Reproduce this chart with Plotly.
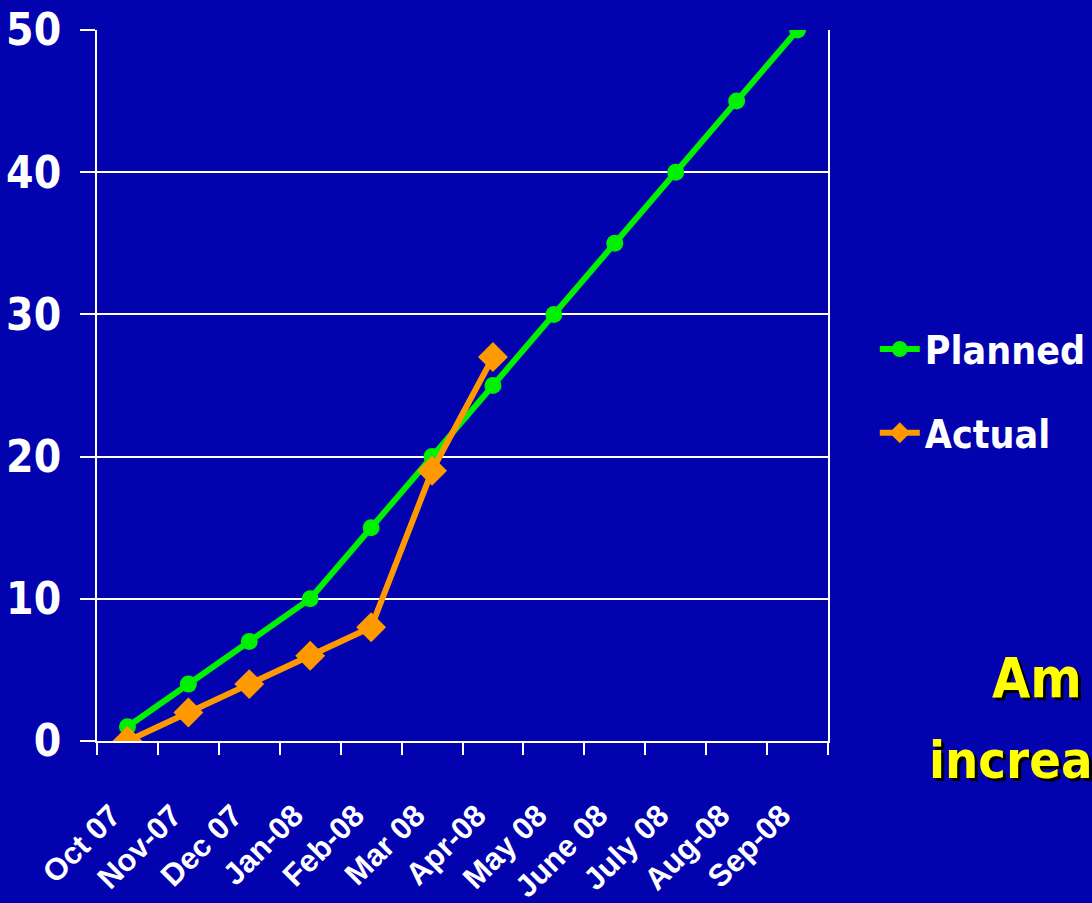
import plotly.graph_objects as go

months = ["Oct 07", "Nov-07", "Dec 07", "Jan-08", "Feb-08", "Mar 08", "Apr-08",
          "May 08", "June 08", "July 08", "Aug-08", "Sep-08"]
planned = [1, 4, 7, 10, 15, 20, 25, 30, 35, 40, 45, 50]
actual_months = months[:7]
actual = [0, 2, 4, 6, 8, 19, 27]

BG = "#0202AE"
NARROW = "Liberation Sans Narrow, Arial Narrow, DejaVu Sans Condensed, Liberation Sans, Arial, sans-serif"
REG = "Liberation Sans, Arial, sans-serif"

fig = go.Figure()
fig.add_trace(go.Scatter(
    x=months, y=planned, name="Planned", mode="lines+markers",
    line=dict(color="#00F000", width=6),
    marker=dict(symbol="circle", size=17, color="#00F000"),
    legendgroup="p",
))
fig.add_trace(go.Scatter(
    x=actual_months, y=actual, name="Actual", mode="lines+markers",
    line=dict(color="#FF9900", width=6),
    marker=dict(symbol="diamond", size=23, color="#FF9900"),
    legendgroup="a",
))

fig.update_layout(
    width=1092, height=903,
    margin=dict(l=97, r=264, t=30, b=162, autoexpand=False),
    paper_bgcolor=BG, plot_bgcolor=BG,
    font=dict(family=REG, color="white"),
    showlegend=True,
    legend=dict(
        x=1.064, y=0.492, xanchor="left", yanchor="middle",
        font=dict(family=NARROW, size=39, color="white", weight="bold"),
        bgcolor="rgba(0,0,0,0)", tracegroupgap=30,
        itemwidth=40,
    ),
    xaxis=dict(
        type="category", range=[-0.5, 11.5], automargin=False,
        showgrid=False, zeroline=False,
        showline=True, linecolor="white", linewidth=2,
        ticks="outside", tickson="boundaries", ticklen=12, tickwidth=2, tickcolor="white",
        tickangle=-45, ticklabelstandoff=42, ticklabelshift=-16,
        tickfont=dict(family=REG, size=31, color="white", weight="bold"),
    ),
    yaxis=dict(
        range=[0, 50], dtick=10, tick0=0, automargin=False,
        showgrid=True, gridcolor="white", gridwidth=2,
        zeroline=False,
        showline=True, linecolor="white", linewidth=2, mirror=True,
        ticks="outside", ticklen=15, tickwidth=2, tickcolor="white",
        ticklabelstandoff=10,
        tickfont=dict(family=NARROW, size=44, color="white", weight="bold"),
    ),
)

fig.add_annotation(
    text="Am", xref="paper", yref="paper", x=1.222, y=0.089,
    xanchor="left", yanchor="middle", showarrow=False,
    font=dict(family=NARROW, size=55, color="#FFFF00", weight="bold",
              shadow="3px 3px 0px #000000"),
)
fig.add_annotation(
    text="increa", xref="paper", yref="paper", x=1.135, y=-0.027,
    xanchor="left", yanchor="middle", showarrow=False,
    font=dict(family=NARROW, size=52, color="#FFFF00", weight="bold",
              shadow="3px 3px 0px #000000"),
)

fig.write_html("out.html")
